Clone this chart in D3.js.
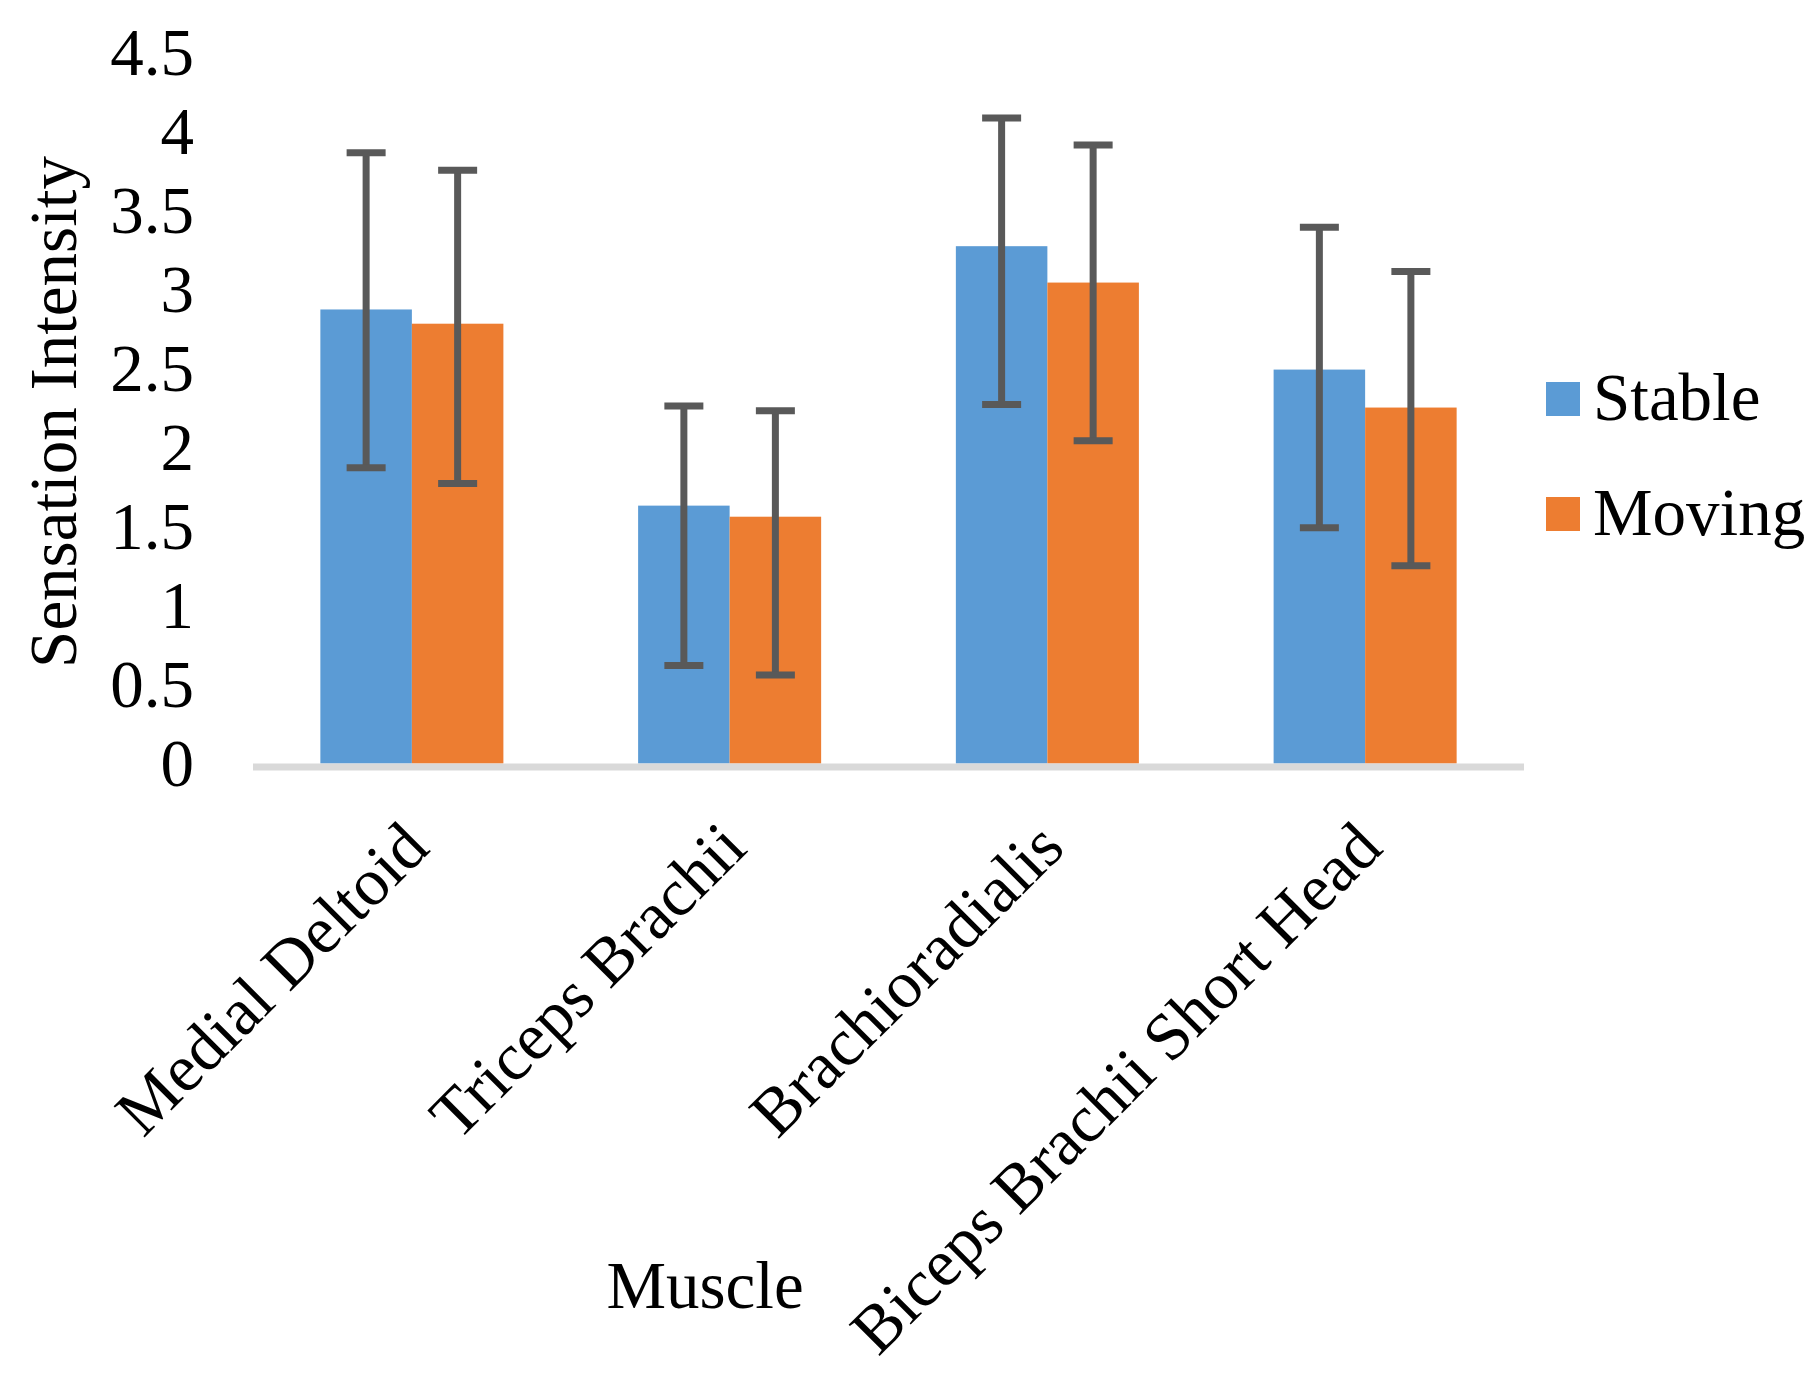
<!DOCTYPE html>
<html>

<head>
    <meta charset="UTF-8">
    <title>Sensation Intensity by Muscle</title>
    <style>
        body {
            margin: 0;
            background-color: #ffffff;
        }

        svg {
            display: block;
        }

        text {
            font-family: 'Liberation Serif', 'Times New Roman', serif;
            fill: #000000;
        }
    </style>
</head>

<body>
    <svg width="1819" height="1381"></svg>
    <script src="https://d3js.org/d3.v7.min.js"></script>
    <script>
        // values
        let muscles = ["Medial Deltoid", "Triceps Brachii", "Brachioradialis", "Biceps Brachii Short Head"];
        let seriesNames = ["Stable", "Moving"];
        let stableValues = [2.87, 1.63, 3.27, 2.49];
        let movingValues = [2.78, 1.56, 3.04, 2.25];
        let stableErrPlus = [0.99, 0.63, 0.81, 0.90];
        let stableErrMinus = [1.00, 1.01, 1.00, 1.00];
        let movingErrPlus = [0.97, 0.67, 0.87, 0.86];
        let movingErrMinus = [1.01, 1.00, 1.00, 1.00];
        let yTicks = [0, 0.5, 1, 1.5, 2, 2.5, 3, 3.5, 4, 4.5];

        let width = 1819, height = 1381;
        let fontSize = 67;
        let colors = { "Stable": "#5B9BD5", "Moving": "#ED7D31" };

        let svg = d3.select("svg")
            .attr("viewBox", "0 0 " + width + " " + height);

        let rows = muscles.map((m, i) => ({
            muscle: m,
            bars: [
                { name: "Stable", value: stableValues[i], plus: stableErrPlus[i], minus: stableErrMinus[i] },
                { name: "Moving", value: movingValues[i], plus: movingErrPlus[i], minus: movingErrMinus[i] }
            ]
        }));

        let x0 = d3.scaleBand()
            .domain(muscles)
            .range([253, 1524])
            .paddingInner(0.424)
            .paddingOuter(0.212);

        let x1 = d3.scaleBand()
            .domain(seriesNames)
            .range([0, x0.bandwidth()]);

        let y = d3.scaleLinear()
            .domain([0, 4.5])
            .range([763.5, 763.5 - 4.5 * 158.2]);

        // y axis labels only, no line or ticks
        let yAxis = svg.append("g")
            .attr("transform", "translate(253,1)")
            .call(d3.axisLeft(y).tickValues(yTicks).tickFormat(d3.format("~g")).tickSize(0).tickPadding(59));
        yAxis.select(".domain").remove();
        yAxis.selectAll("text")
            .style("font-family", "'Liberation Serif', 'Times New Roman', serif")
            .style("font-size", fontSize + "px")
            .attr("fill", "#000");

        // bars
        let groups = svg.append("g")
            .selectAll("g")
            .data(rows)
            .enter()
            .append("g")
            .attr("transform", d => "translate(" + x0(d.muscle) + ",0)");

        groups.selectAll("rect")
            .data(d => d.bars)
            .enter()
            .append("rect")
            .attr("x", d => x1(d.name))
            .attr("y", d => y(d.value))
            .attr("width", x1.bandwidth())
            .attr("height", d => y(0) - y(d.value))
            .attr("fill", d => colors[d.name]);

        // category axis line
        svg.append("line")
            .attr("x1", x0.range()[0])
            .attr("x2", x0.range()[1])
            .attr("y1", y(0) + 3.5)
            .attr("y2", y(0) + 3.5)
            .attr("stroke", "#D9D9D9")
            .attr("stroke-width", 7);

        // error bars
        let capHalf = 19.5;
        let errs = groups.selectAll("g.err")
            .data(d => d.bars)
            .enter()
            .append("g")
            .attr("class", "err")
            .attr("stroke", "#595959")
            .attr("stroke-width", 7);

        errs.append("line")
            .attr("x1", d => x1(d.name) + x1.bandwidth() / 2)
            .attr("x2", d => x1(d.name) + x1.bandwidth() / 2)
            .attr("y1", d => y(d.value + d.plus))
            .attr("y2", d => y(d.value - d.minus));

        errs.append("line")
            .attr("x1", d => x1(d.name) + x1.bandwidth() / 2 - capHalf)
            .attr("x2", d => x1(d.name) + x1.bandwidth() / 2 + capHalf)
            .attr("y1", d => y(d.value + d.plus))
            .attr("y2", d => y(d.value + d.plus));

        errs.append("line")
            .attr("x1", d => x1(d.name) + x1.bandwidth() / 2 - capHalf)
            .attr("x2", d => x1(d.name) + x1.bandwidth() / 2 + capHalf)
            .attr("y1", d => y(d.value - d.minus))
            .attr("y2", d => y(d.value - d.minus));

        // rotated category labels
        svg.append("g")
            .selectAll("text")
            .data(muscles)
            .enter()
            .append("text")
            .attr("text-anchor", "end")
            .attr("dy", "0.35em")
            .attr("font-size", fontSize)
            .attr("transform", d => "translate(" + (x0(d) + x0.bandwidth() / 2 + 3) + "," + 834 + ") rotate(-45)")
            .text(d => d);

        // axis titles
        svg.append("text")
            .attr("text-anchor", "middle")
            .attr("font-size", fontSize)
            .attr("x", 705)
            .attr("y", 1308)
            .text("Muscle");

        svg.append("text")
            .attr("text-anchor", "middle")
            .attr("font-size", fontSize)
            .attr("transform", "translate(76,412) rotate(-90)")
            .text("Sensation Intensity");

        // legend
        let legend = svg.append("g")
            .selectAll("g")
            .data(seriesNames)
            .enter()
            .append("g")
            .attr("transform", (d, i) => "translate(1546," + (382 + i * 115) + ")");

        legend.append("rect")
            .attr("width", 34)
            .attr("height", 34)
            .attr("fill", d => colors[d]);

        legend.append("text")
            .attr("x", 47)
            .attr("y", 38)
            .attr("font-size", fontSize)
            .text(d => d);
    </script>
</body>

</html>
